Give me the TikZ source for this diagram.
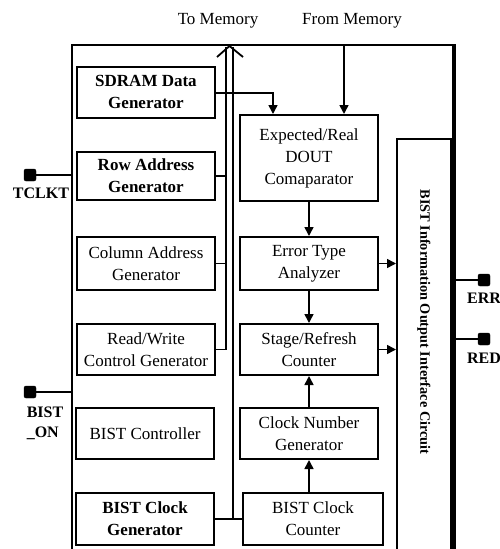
\documentclass[tikz,border=0pt]{standalone}
\usepackage{fontspec}
\setmainfont{Liberation Serif}
\usetikzlibrary{arrows.meta}
\begin{document}
\begin{tikzpicture}[x=1pt,y=-1pt,
  txt/.style={font=\fontsize{17}{22}\selectfont},
  box/.style={draw, line width=2pt, inner sep=0pt, align=center, minimum width=138pt, minimum height=51pt, txt},
  arr/.style={line width=1.6pt, -{Triangle[length=9pt,width=9pt]}},
  wire/.style={line width=1.8pt},
  pin/.style={fill=black, draw=black, rounded corners=2pt, minimum size=12pt, inner sep=0pt},
  lbl/.style={font=\fontsize{16}{20}\selectfont\bfseries, align=left, inner sep=0pt}
]
\useasboundingbox (0,0) rectangle (500,549);
\clip (0,0) rectangle (500,549);

% left column
\node[box] (sdram) at (146,92) {\textbf{SDRAM Data}\\\textbf{Generator}};
\node[box, minimum height=48pt] (row) at (146,176) {\textbf{Row Address}\\\textbf{Generator}};
\node[box, minimum height=53pt] (col) at (146,263.5) {Column Address\\Generator};
\node[box] (rw) at (146,349.5) {Read/Write\\Control Generator};
\node[box] (ctrl) at (145,433.5) {BIST Controller};
\node[box, minimum height=52pt] (cgen) at (145,519) {\textbf{BIST Clock}\\\textbf{Generator}};

% middle column
\node[box, minimum height=86pt] (exp) at (309,158) {Expected/Real\\DOUT\\Comaparator};
\node[box, minimum height=53pt] (err) at (309,263.5) {Error Type\\Analyzer};
\node[box] (stage) at (309,349.5) {Stage/Refresh\\Counter};
\node[box] (cng) at (309,433.5) {Clock Number\\Generator};
\node[box, minimum width=140pt, minimum height=52pt] (bcc) at (313,519) {BIST Clock\\Counter};

% information box (runs past bottom edge)
\node[draw, line width=2pt, minimum width=54pt, minimum height=430pt, inner sep=0pt] (info) at (424,354) {};
\node[rotate=-90, font=\fontsize{14.3}{17}\selectfont\bfseries, inner sep=0pt] (infotxt) at (424,322) {BIST Information Output Interface Circuit};

% outer frame
\draw[line width=2.5pt] (72,549) -- (72,45) -- (454,45);
\draw[line width=4pt] (454,44) -- (454,549);

% top labels
\node[txt, inner sep=0pt] (tomem) at (218,21) {To Memory};
\node[txt, inner sep=0pt] (frommemtxt) at (352,21) {From Memory};

% bus
\coordinate (busL) at (226,47);
\coordinate (busR) at (233,47);
\draw[line width=2.5pt] (busL) -- (226,350);
\draw[line width=2pt] (busR) -- (233,519);
\draw[line width=1.8pt] (217,57) -- (229.5,46) -- (243,57);

% connections into bus
\draw[wire] (row.east) -- (row.east -| busL);
\draw[wire] (col.east) -- (col.east -| busL);
\draw[wire] (rw.east) -- (rw.east -| busL);
\draw[wire] (cgen.east) -- (bcc.west);

% data path
\draw[arr] ([yshift=-1pt]sdram.east) -| ([xshift=-36pt]exp.north);
\coordinate (frommem) at (344,45);
\draw[arr] (frommem) -- (frommem |- exp.north);
\draw[arr] (exp.south) -- (err.north);
\draw[arr] (err.south) -- (stage.north);
\draw[arr] (cng.north) -- (stage.south);
\draw[arr] (cng.south |- bcc.north) -- (cng.south);
\draw[arr] (err.east) -- (err.east -| info.west);
\draw[arr] (stage.east) -- (stage.east -| info.west);

% pins
\node[pin] (tclkt) at (30,175) {};
\draw[wire] (tclkt) -- (72,175);
\node[lbl] (tclktl) at (41,193) {TCLKT};
\node[pin] (biston) at (30,392) {};
\draw[wire] (biston) -- (72,392);
\node[lbl] (bistonl) at (45,423) {BIST\\\_ON};
\node[pin] (errp) at (484,280) {};
\draw[wire] (454,280) -- (errp);
\node[lbl] (errl) at (484,298) {ERR};
\node[pin] (redp) at (484,339) {};
\draw[wire] (454,339) -- (redp);
\node[lbl] (redl) at (484,358) {RED};
\end{tikzpicture}
\end{document}
